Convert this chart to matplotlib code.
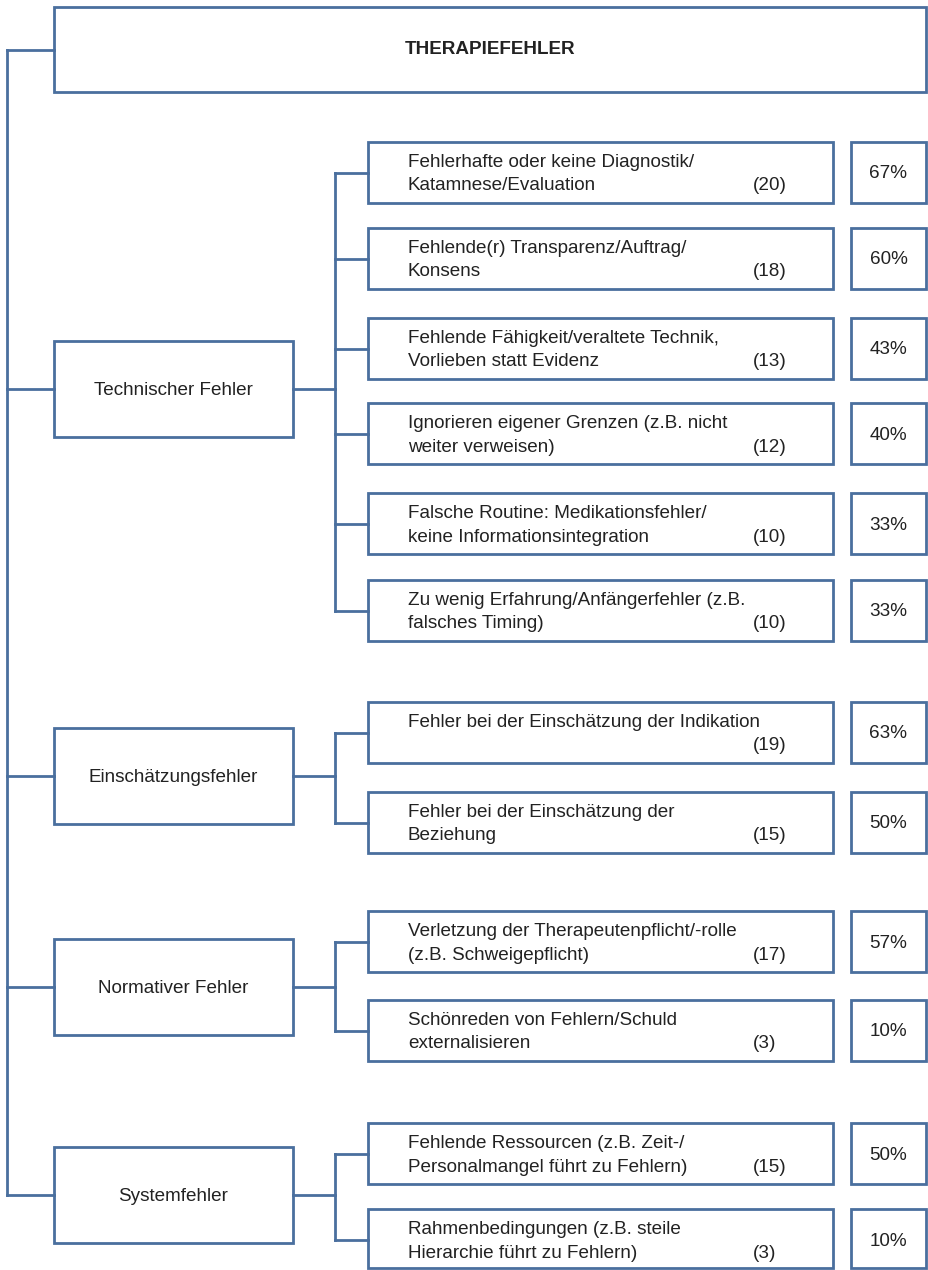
import matplotlib.pyplot as plt
from matplotlib.patches import Rectangle

# data
title = 'THERAPIEFEHLER'
categories = ['Technischer Fehler', 'Einschätzungsfehler', 'Normativer Fehler', 'Systemfehler']
items_per_category = [6, 2, 2, 2]
item_lines = [
    ('Fehlerhafte oder keine Diagnostik/', 'Katamnese/Evaluation'),
    ('Fehlende(r) Transparenz/Auftrag/', 'Konsens'),
    ('Fehlende Fähigkeit/veraltete Technik,', 'Vorlieben statt Evidenz'),
    ('Ignorieren eigener Grenzen (z.B. nicht', 'weiter verweisen)'),
    ('Falsche Routine: Medikationsfehler/', 'keine Informationsintegration'),
    ('Zu wenig Erfahrung/Anfängerfehler (z.B.', 'falsches Timing)'),
    ('Fehler bei der Einschätzung der Indikation', ''),
    ('Fehler bei der Einschätzung der', 'Beziehung'),
    ('Verletzung der Therapeutenpflicht/-rolle', '(z.B. Schweigepflicht)'),
    ('Schönreden von Fehlern/Schuld', 'externalisieren'),
    ('Fehlende Ressourcen (z.B. Zeit-/', 'Personalmangel führt zu Fehlern)'),
    ('Rahmenbedingungen (z.B. steile', 'Hierarchie führt zu Fehlern)'),
]
counts = [20, 18, 13, 12, 10, 10, 19, 15, 17, 3, 15, 3]
percents = [67, 60, 43, 40, 33, 33, 63, 50, 57, 10, 50, 10]

# layout (pixels, y downwards)
item_tops = [142, 228, 318, 403, 493, 580, 702, 792, 911, 1000, 1123, 1209]
item_h = [61] * 11 + [59]
cat_tops = [341, 728, 939, 1147]
cat_h = 96

blue = '#4a6f9e'
txt = '#222222'
lw = 2.0
fs = 13.6
plt.rcParams['font.family'] = ['Liberation Sans', 'DejaVu Sans']

fig = plt.figure(figsize=(9.29, 12.70), dpi=100)
ax = fig.add_axes([0, 0, 1, 1])
ax.set_xlim(0, 929)
ax.set_ylim(1270, 0)
ax.axis('off')


def box(x0, y0, w, h):
    ax.add_patch(Rectangle((x0, y0), w, h, fill=False, edgecolor=blue, linewidth=lw, joinstyle='miter'))


def line(xs, ys):
    ax.plot(xs, ys, color=blue, linewidth=lw, solid_capstyle='projecting')


# top box
box(54, 7, 872, 85)
ax.text(490, 54, title, ha='center', va='baseline', fontsize=fs, fontweight='bold', color=txt)

trunk_x = 7
branch_x = 335
cat_centers = [t + cat_h / 2 for t in cat_tops]
line([trunk_x, trunk_x], [49.5, cat_centers[-1]])
line([trunk_x, 54], [49.5, 49.5])

k = 0
for ci, cat in enumerate(categories):
    cy = cat_centers[ci]
    box(54, cat_tops[ci], 239, cat_h)
    ax.text(173.5, cy + 6, cat, ha='center', va='baseline', fontsize=fs, color=txt)
    line([trunk_x, 54], [cy, cy])
    line([293, branch_x], [cy, cy])
    centers = []
    for j in range(items_per_category[ci]):
        top = item_tops[k]
        h = item_h[k]
        c = top + 30.5
        centers.append(c)
        box(368, top, 465, h)
        box(851, top, 75, h)
        l1, l2 = item_lines[k]
        ax.text(408, c - 5.5, l1, ha='left', va='baseline', fontsize=fs, color=txt)
        if l2:
            ax.text(408, c + 18, l2, ha='left', va='baseline', fontsize=fs, color=txt)
        ax.text(753, c + 18, f'({counts[k]})', ha='left', va='baseline', fontsize=fs, color=txt)
        ax.text(888.5, c + 6, f'{percents[k]}%', ha='center', va='baseline', fontsize=fs, color=txt)
        line([branch_x, 368], [c, c])
        k += 1
    line([branch_x, branch_x], [centers[0], centers[-1]])

fig.savefig('out.png', dpi=100, facecolor='white')
